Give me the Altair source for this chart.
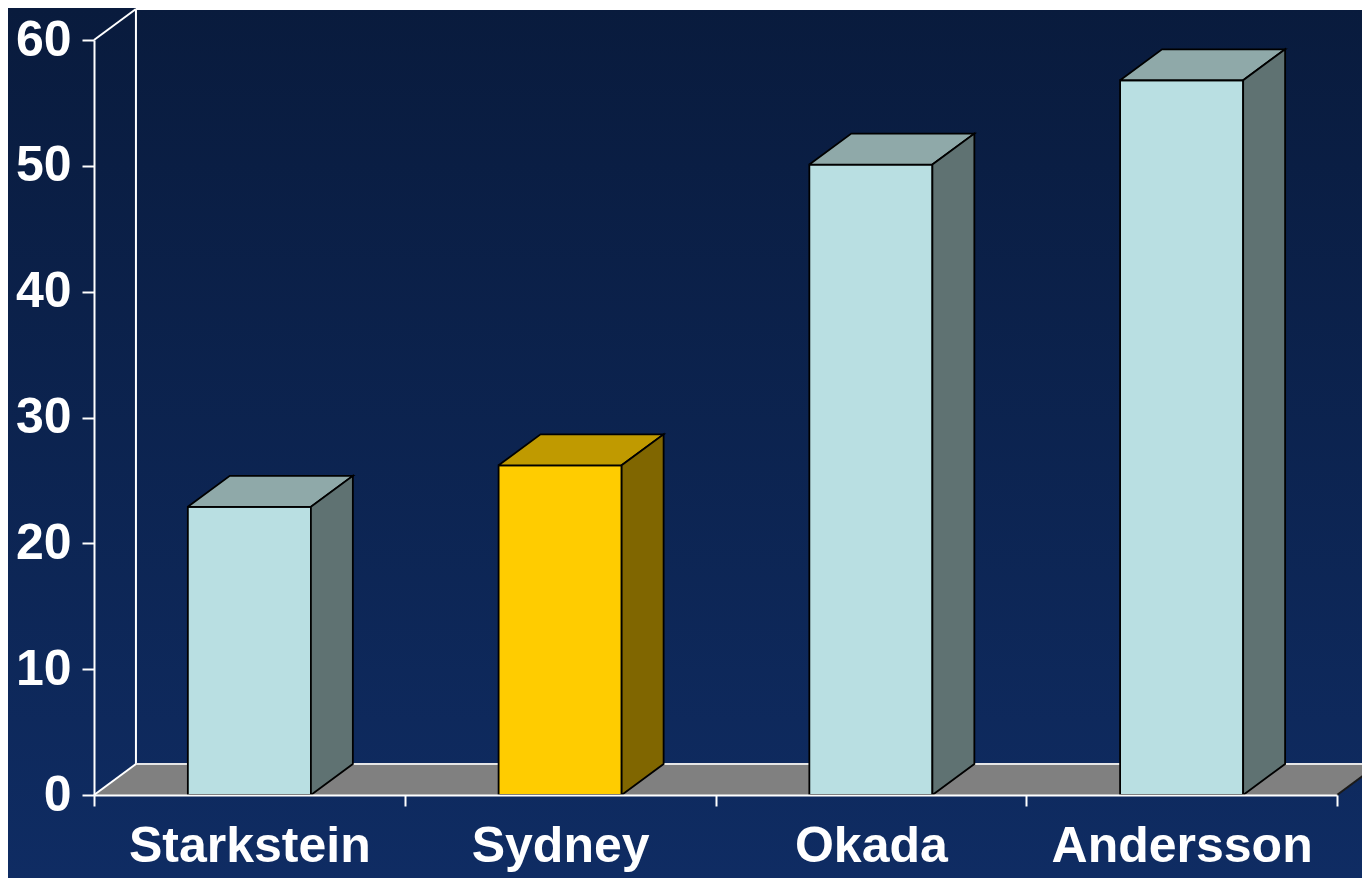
import json
import altair as alt
import pandas as pd

# ---- data ----
categories = ["Starkstein", "Sydney", "Okada", "Andersson"]
values = [22.9, 26.2, 50.1, 56.8]
front_colors = ["#b9dfe2", "#ffcc00", "#b9dfe2", "#b9dfe2"]
top_colors = ["#8fa9a9", "#c09a00", "#8fa9a9", "#8fa9a9"]
side_colors = ["#5f7272", "#806600", "#5f7272", "#5f7272"]
y_ticks = [0, 10, 20, 30, 40, 50, 60]

# ---- style / geometry constants ----
Y_MAX = 60
N = len(categories)
HALF_W = 0.198    # half bar width, category units
DEPTH_X = 0.135   # 3D depth offset, category units
DEPTH_Y = 2.46    # 3D depth offset, value units

W, H = 1243, 755
PAD = {"left": 86, "top": 32, "right": 25, "bottom": 83}
FONT = "Liberation Sans"

# ---- build tables ----
front_rows, poly_rows = [], []
for i, (cat, v) in enumerate(zip(categories, values)):
    x0, x1 = i + 0.5 - HALF_W, i + 0.5 + HALF_W
    front_rows.append({"cat": cat, "x0": x0, "x1": x1, "y0": 0, "y1": v, "fill": front_colors[i]})
    top = [(x0, v), (x0 + DEPTH_X, v + DEPTH_Y), (x1 + DEPTH_X, v + DEPTH_Y), (x1, v), (x0, v)]
    side = [(x1, 0), (x1, v), (x1 + DEPTH_X, v + DEPTH_Y), (x1 + DEPTH_X, DEPTH_Y), (x1, 0)]
    for name, pts, col in (("top", top, top_colors[i]), ("side", side, side_colors[i])):
        for k, (px, py) in enumerate(pts):
            poly_rows.append({"poly": f"{cat}-{name}", "k": k, "x": px, "y": py, "fill": col})
front_df = pd.DataFrame(front_rows)
poly_df = pd.DataFrame(poly_rows)

floor_pts = [(0, 0), (DEPTH_X, DEPTH_Y), (N + DEPTH_X, DEPTH_Y), (N, 0), (0, 0)]
floor_df = pd.DataFrame([{"k": k, "x": px, "y": py} for k, (px, py) in enumerate(floor_pts)])

segments = [
    ((0, Y_MAX), (DEPTH_X, Y_MAX + DEPTH_Y), "white"),
    ((DEPTH_X, DEPTH_Y), (DEPTH_X, Y_MAX + DEPTH_Y), "white"),
    ((DEPTH_X, Y_MAX + DEPTH_Y), (N + DEPTH_X, Y_MAX + DEPTH_Y), "white"),
    ((0, 0), (DEPTH_X, DEPTH_Y), "white"),
    ((DEPTH_X, DEPTH_Y), (N + DEPTH_X, DEPTH_Y), "#e6e6e6"),
    ((N, 0), (N + DEPTH_X, DEPTH_Y), "#1a1a1a"),
]
seg_rows = []
for s, (a, b, c) in enumerate(segments):
    seg_rows.append({"seg": s, "k": 0, "x": a[0], "y": a[1], "col": c})
    seg_rows.append({"seg": s, "k": 1, "x": b[0], "y": b[1], "col": c})
seg_df = pd.DataFrame(seg_rows)

# ---- scales and axes ----
xscale = alt.Scale(domain=[0, N], nice=False, zero=False)
yscale = alt.Scale(domain=[0, Y_MAX], nice=False, zero=False)

label_expr = ("datum.value % 1 == 0 ? '' : " + json.dumps(categories).replace('"', "'")
              + "[floor(datum.value)]")
xaxis = alt.Axis(
    values=[i / 2 for i in range(2 * N + 1)],
    labelExpr=label_expr,
    title=None, grid=False,
    domainColor="white", domainWidth=2,
    tickColor={"condition": {"test": "datum.value % 1 != 0", "value": "transparent"}, "value": "white"},
    tickSize=11, tickWidth=2,
    labelFont=FONT, labelFontSize=50, labelFontWeight="bold", labelColor="white",
    labelPadding=15, labelOverlap=False, labelFlush=False, labelBound=False, labelLimit=0,
    zindex=1,
)
yaxis = alt.Axis(
    values=y_ticks, title=None, grid=False,
    domainColor="white", domainWidth=2,
    tickColor="white", tickSize=12, tickWidth=2,
    labelFont=FONT, labelFontSize=50, labelFontWeight="bold", labelColor="white",
    labelPadding=11, labelOverlap=False, labelFlush=False, labelLimit=0,
    zindex=1,
)


def X(field):
    return alt.X(field, type="quantitative", scale=xscale, axis=xaxis)


def Y(field):
    return alt.Y(field, type="quantitative", scale=yscale, axis=yaxis)


# ---- layers ----
bg = alt.Chart(pd.DataFrame({"a": [0]})).mark_rect(
    fill=alt.LinearGradient(
        gradient="linear",
        stops=[alt.GradientStop(color="#091b3d", offset=0),
               alt.GradientStop(color="#0f2c63", offset=1)],
        x1=0, x2=0, y1=0, y2=1,
    )
).encode(
    x=alt.value(-PAD["left"]), x2=alt.value(W + PAD["right"]),
    y=alt.value(-PAD["top"]), y2=alt.value(H + PAD["bottom"]),
)

floor = alt.Chart(floor_df).mark_line(fill="#808080", stroke="#808080", strokeWidth=0.5).encode(
    x=X("x"), y=Y("y"), order=alt.Order("k:Q"),
)

walls = alt.Chart(seg_df).mark_line(strokeWidth=2).encode(
    x=X("x"), y=Y("y"), detail="seg:N", order=alt.Order("k:Q"),
    stroke=alt.Stroke("col:N", scale=None, legend=None),
)

fronts = alt.Chart(front_df).mark_rect(stroke="black", strokeWidth=1.8).encode(
    x=X("x0"), x2="x1", y=Y("y0"), y2="y1",
    fill=alt.Fill("fill:N", scale=None, legend=None),
)

faces = alt.Chart(poly_df).mark_line(stroke="black", strokeWidth=1.8, strokeJoin="miter").encode(
    x=X("x"), y=Y("y"), detail="poly:N", order=alt.Order("k:Q"),
    fill=alt.Fill("fill:N", scale=None, legend=None),
)

chart = alt.layer(bg, floor, walls, fronts, faces).properties(
    width=W, height=H,
    autosize=alt.AutoSizeParams(type="none"),
    padding=PAD,
).configure(
    background="#0c2350",
).configure_view(stroke=None)

chart.save("out.html", embed_options={"renderer": "svg", "actions": False})
